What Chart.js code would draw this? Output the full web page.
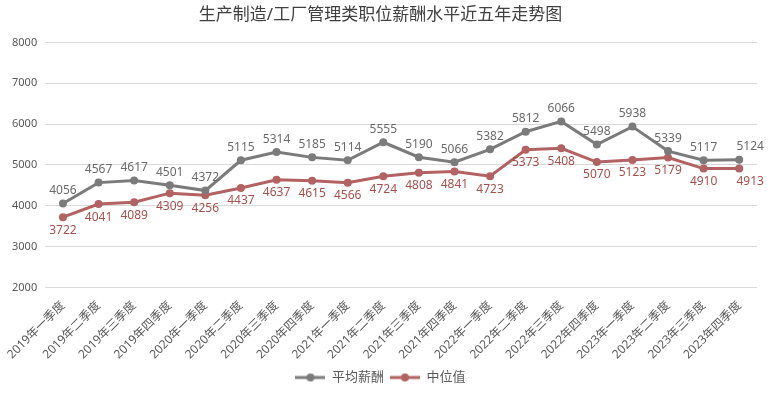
<!DOCTYPE html>
<html>
<head>
<meta charset="utf-8">
<script src="https://cdn.jsdelivr.net/npm/chart.js@4"></script>
<style>
  html, body { margin: 0; padding: 0; background: #fff; }
  .chart-container { position: relative; width: 771px; height: 394px; }
</style>
</head>
<body>
<div class="chart-container"><canvas id="salaryChart"></canvas></div>
<script>
const quarters = [
   '2019年一季度', '2019年二季度', '2019年三季度', '2019年四季度',
   '2020年一季度', '2020年二季度', '2020年三季度', '2020年四季度',
   '2021年一季度', '2021年二季度', '2021年三季度', '2021年四季度',
   '2022年一季度', '2022年二季度', '2022年三季度', '2022年四季度',
   '2023年一季度', '2023年二季度', '2023年三季度', '2023年四季度'
];
const avgSalary = [4056, 4567, 4617, 4501, 4372, 5115, 5314, 5185, 5114, 5555,
   5190, 5066, 5382, 5812, 6066, 5498, 5938, 5339, 5117, 5124];
const medianSalary = [3722, 4041, 4089, 4309, 4256, 4437, 4637, 4615, 4566, 4724,
   4808, 4841, 4723, 5373, 5408, 5070, 5123, 5179, 4910, 4913];
const yTicks = [2000, 3000, 4000, 5000, 6000, 7000, 8000];

const FONT = '"Noto Sans", "Noto Sans CJK SC", sans-serif';
const avgColor = '#7b7b7b';
const medianColor = '#b26262';

// legend marker: short line with a dot, like the original
function legendMarker(color) {
   const c = document.createElement('canvas');
   c.width = 30;
   c.height = 10;
   const g = c.getContext('2d');
   g.strokeStyle = color;
   g.lineWidth = 3;
   g.beginPath();
   g.moveTo(0, 5);
   g.lineTo(30, 5);
   g.stroke();
   g.fillStyle = color;
   g.beginPath();
   g.arc(15, 5, 4, 0, Math.PI * 2);
   g.fill();
   return c;
}

// value labels above (avg) / below (median) the points
const valueLabels = {
   id: 'valueLabels',
   afterDatasetsDraw(chart) {
      const ctx = chart.ctx;
      ctx.save();
      ctx.font = '12px ' + FONT;
      ctx.textAlign = 'center';
      ctx.textBaseline = 'middle';
      chart.data.datasets.forEach((ds, i) => {
         const meta = chart.getDatasetMeta(i);
         ctx.fillStyle = ds.labelColor;
         meta.data.forEach((pt, j) => {
            const dx = j === ds.data.length - 1 ? 11 : 0;
            ctx.fillText(ds.data[j], pt.x + dx, pt.y + ds.labelOffset);
         });
      });
      ctx.restore();
   }
};

const ctx = document.getElementById('salaryChart').getContext('2d');
new Chart(ctx, {
   type: 'line',
   data: {
      labels: quarters,
      datasets: [{
         label: '平均薪酬',
         data: avgSalary,
         borderColor: avgColor,
         backgroundColor: avgColor,
         borderWidth: 3,
         pointRadius: 4,
         pointHoverRadius: 4,
         pointBackgroundColor: avgColor,
         pointBorderWidth: 0,
         pointStyle: 'circle',
         labelColor: '#6b6b6b',
         labelOffset: -13
      }, {
         label: '中位值',
         data: medianSalary,
         borderColor: medianColor,
         backgroundColor: medianColor,
         borderWidth: 3,
         pointRadius: 4,
         pointHoverRadius: 4,
         pointBackgroundColor: medianColor,
         pointBorderWidth: 0,
         pointStyle: 'circle',
         labelColor: '#a6504d',
         labelOffset: 13
      }]
   },
   options: {
      responsive: true,
      maintainAspectRatio: false,
      animation: false,
      layout: {
         padding: { left: 4, right: 14, top: 0, bottom: 0 }
      },
      plugins: {
         title: {
            display: true,
            text: '生产制造/工厂管理类职位薪酬水平近五年走势图',
            color: '#404040',
            font: { family: FONT, size: 17, weight: 'normal' },
            padding: { top: 5, bottom: 17 }
         },
         legend: {
            position: 'bottom',
            labels: {
               color: '#595959',
               font: { family: FONT, size: 13 },
               usePointStyle: true,
               pointStyleWidth: 30,
               boxHeight: 10,
               padding: 6,
               generateLabels: (chart) => chart.data.datasets.map((ds, i) => ({
                  text: ds.label,
                  fillStyle: ds.borderColor,
                  strokeStyle: ds.borderColor,
                  pointStyle: legendMarker(ds.borderColor),
                  fontColor: '#595959',
                  datasetIndex: i,
                  hidden: false
               }))
            }
         },
         tooltip: { enabled: false }
      },
      scales: {
         x: {
            offset: true,
            grid: { display: false },
            border: { display: false },
            ticks: {
               color: '#595959',
               font: { family: FONT, size: 12 },
               maxRotation: 45,
               minRotation: 45,
               autoSkip: false
            }
         },
         y: {
            min: yTicks[0],
            max: yTicks[yTicks.length - 1],
            border: { display: false },
            grid: { color: '#d9d9d9', drawTicks: false },
            afterBuildTicks: (axis) => { axis.ticks = yTicks.map(v => ({ value: v })); },
            ticks: {
               color: '#595959',
               font: { family: FONT, size: 11 },
               padding: 8,
               callback: (v) => String(v)
            }
         }
      }
   },
   plugins: [valueLabels]
});
</script>
</body>
</html>
